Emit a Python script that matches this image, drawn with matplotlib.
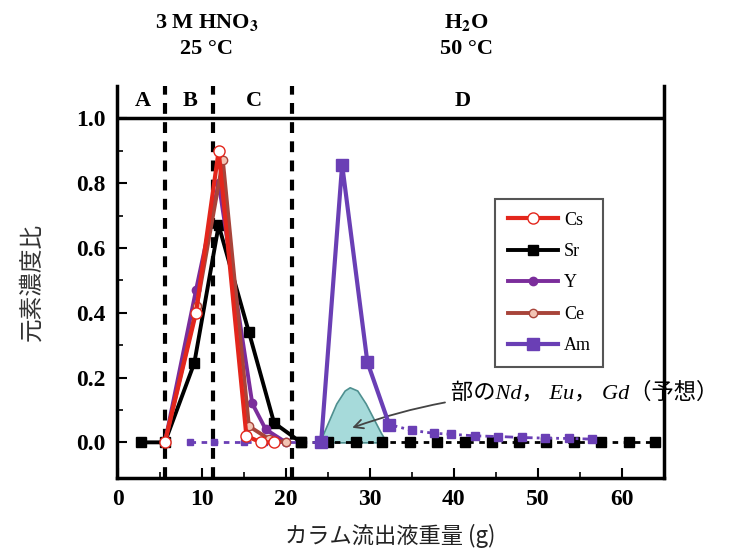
import matplotlib
matplotlib.use('Agg')
import matplotlib.pyplot as plt

plt.rcParams['mathtext.fontset'] = 'stix'

# Cs / Sr / Y / Ce elution peak (HNO3 region)
cs_x = [5.6, 9.3, 12.0, 15.3, 17.0, 18.6]
cs_y = [0.0, 0.40, 0.90, 0.02, 0.0, 0.0]
ce_x = [5.6, 9.4, 12.5, 15.6, 18.0, 20.0]
ce_y = [0.0, 0.42, 0.87, 0.05, 0.01, 0.0]
y_x = [5.6, 9.3, 12.0, 16.0, 17.6, 20.0]
y_y = [0.0, 0.47, 0.80, 0.12, 0.04, 0.0]
sr_x = [2.7, 5.6, 9.1, 12.0, 15.6, 18.6, 21.8]
sr_y = [0.0, 0.0, 0.245, 0.67, 0.34, 0.06, 0.0]
sr_tail_x = [21.8, 25.0, 28.3, 31.5, 34.8, 38.0, 41.3, 44.5, 47.8, 51.0, 54.3, 57.5, 60.8, 64.0]
sr_tail_y = [0.0] * len(sr_tail_x)

# Am (H2O region)
am_pre_x = [8.6, 11.5, 15.0, 17.4, 20.0, 24.2]
am_pre_y = [0.0, 0.0, 0.0, 0.0, 0.0, 0.0]
am_x = [24.2, 26.7, 29.7, 32.3]
am_y = [0.0, 0.857, 0.248, 0.055]
am_tail_x = [32.3, 35.0, 37.6, 39.7, 42.5, 45.3, 48.1, 50.8, 53.7, 56.4]
am_tail_y = [0.055, 0.037, 0.028, 0.025, 0.02, 0.018, 0.015, 0.013, 0.012, 0.01]

# predicted Nd/Eu/Gd band
bell_x = [24.0, 25.0, 26.0, 27.0, 27.6, 28.5, 29.5, 30.5, 31.3, 32.0]
bell_y = [0.0, 0.06, 0.12, 0.16, 0.17, 0.16, 0.12, 0.07, 0.03, 0.0]

boundaries = [5.6, 11.3, 20.7]
region_labels = ['A', 'B', 'C', 'D']
region_pos = [3.0, 8.6, 16.2, 41.0]

red = '#e3261c'
brown = '#a8443a'
purple = '#7b2d9b'
violet = '#6a3fb5'

fig = plt.figure(figsize=(7.36, 5.58), dpi=100)
ax = fig.add_axes([0.159, 0.1434, 0.743, 0.7025])

serif = ['Liberation Serif', 'DejaVu Serif']
jp = ['Noto Sans CJK JP', 'DejaVu Sans']

ax.fill_between(bell_x, bell_y, color='#a6dada', edgecolor='#4f9090', lw=1.2, zorder=1)

for b in boundaries:
    ax.axvline(b, color='black', lw=3, dashes=(2.6, 2.0), zorder=2)
ax.axhline(1.0, color='black', lw=2.5, zorder=2)

ax.plot(sr_tail_x, sr_tail_y, color='black', lw=2, dashes=(2, 2), marker='s', ms=7, zorder=3)
ax.plot(am_pre_x, am_pre_y, color=violet, lw=2, dashes=(2, 2), marker='s', ms=5, zorder=3)
ax.plot(am_tail_x, am_tail_y, color=violet, lw=2, dashes=(3, 1.5, 1, 1.5), marker='s', ms=6, zorder=4)

ax.plot(sr_x, sr_y, color='black', lw=2.8, marker='s', ms=7, label='Sr', zorder=4)
ax.plot(y_x, y_y, color=purple, lw=2.8, marker='o', ms=6, label='Y', zorder=5)
ax.plot(ce_x, ce_y, color=brown, lw=2.8, marker='o', ms=6, mfc='#f2c4b4', mec=brown, label='Ce', zorder=5)
ax.plot(cs_x, cs_y, color=red, lw=3, marker='o', ms=8, mfc='white', mec=red, label='Cs', zorder=6)
ax.plot(am_x, am_y, color=violet, lw=3, marker='s', ms=8, label='Am', zorder=5)

handles, labels = ax.get_legend_handles_labels()
order = [labels.index(n) for n in ['Cs', 'Sr', 'Y', 'Ce', 'Am']]
leg = ax.legend([handles[i] for i in order], [labels[i] for i in order],
                loc='upper left', bbox_to_anchor=(0.675, 0.735), fancybox=False,
                edgecolor='#555555', framealpha=1, handlelength=2.8, labelspacing=0.8,
                borderpad=0.7, handletextpad=0.3, prop={'family': serif, 'size': 13})
leg.get_frame().set_linewidth(1.5)

ax.annotate('部のNd， Eu， Gd（予想）', xy=(27.9, 0.045), xytext=(39.6, 0.152),
            fontsize=16, style='italic', family=['Liberation Serif', 'Noto Sans CJK JP'],
            va='center', ha='left', annotation_clip=False,
            arrowprops=dict(arrowstyle='->', color='#444444', lw=1.3,
                            connectionstyle='arc3,rad=0.1', shrinkA=2, shrinkB=0))

for lab, xp in zip(region_labels, region_pos):
    ax.text(xp, 1.055, lab, ha='center', va='center', fontsize=16, weight='bold', family=serif)

ax.text(10.6, 1.295, r'3 M HNO$_\mathbf{3}$', ha='center', va='center', fontsize=16,
        weight='bold', family=serif, clip_on=False)
ax.text(10.6, 1.215, '25 °C', ha='center', va='center', fontsize=16, weight='bold',
        family=serif, clip_on=False)
ax.text(41.5, 1.295, r'H$_\mathbf{2}$O', ha='center', va='center', fontsize=16,
        weight='bold', family=serif, clip_on=False)
ax.text(41.5, 1.215, '50 °C', ha='center', va='center', fontsize=16, weight='bold',
        family=serif, clip_on=False)

ax.set_xlim(-0.1, 65)
ax.set_ylim(-0.11, 1.10)
ax.set_xticks(range(0, 70, 10))
ax.set_xticks(range(5, 65, 10), minor=True)
ax.set_yticks([0.0, 0.2, 0.4, 0.6, 0.8, 1.0])
ax.set_yticks([0.1, 0.3, 0.5, 0.7, 0.9], minor=True)
ax.set_yticklabels(['0.0', '0.2', '0.4', '0.6', '0.8', '1.0'])
ax.tick_params(which='major', direction='in', length=7, width=1.5, pad=8, labelsize=17)
ax.tick_params(which='minor', direction='in', length=4, width=1.2)
ax.tick_params(axis='x', top=False)
for t in ax.get_xticklabels() + ax.get_yticklabels():
    t.set_family(serif)
    t.set_weight('bold')

ax.spines['top'].set_visible(False)
for s in ['left', 'right', 'bottom']:
    ax.spines[s].set_linewidth(2.5)

ax.set_xlabel('カラム流出液重量 (g)', family=jp, fontsize=16, labelpad=10, color='#222222')
ax.set_ylabel('元素濃度比', family=jp, fontsize=17, labelpad=24, color='#333333')

fig.savefig('out.png', dpi=100)
